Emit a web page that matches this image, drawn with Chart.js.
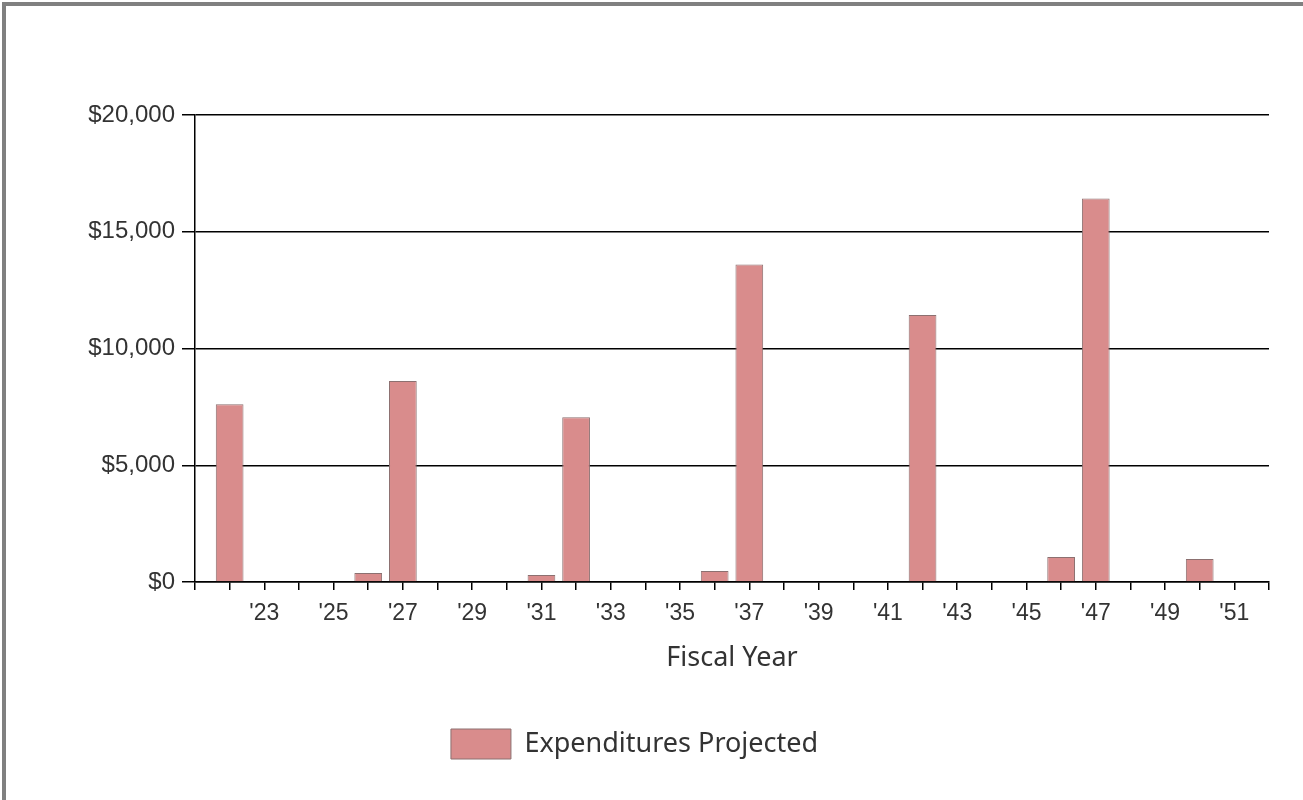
<!DOCTYPE html>
<html>
<head>
<meta charset="utf-8">
<script src="https://cdn.jsdelivr.net/npm/chart.js@4"></script>
<style>
  html, body { margin:0; padding:0; background:#fff; }
  #wrap { position:absolute; left:0; top:0; width:1303px; height:800px; }
  #frame { position:absolute; left:2px; top:2px; width:1400px; height:900px;
           border-top:4px solid #808080; border-left:4px solid #808080; pointer-events:none; }
</style>
</head>
<body>
<div id="wrap"><canvas id="c" width="1303" height="800"></canvas></div>
<div id="frame"></div>
<script>
const categories = ["'21","'22","'23","'24","'25","'26","'27","'28","'29","'30","'31","'32","'33","'34","'35","'36","'37","'38","'39","'40","'41","'42","'43","'44","'45","'46","'47","'48","'49","'50","'51","'52"];
const expendituresProjected = [0,7610,0,0,0,385,8610,0,0,0,300,7060,0,0,0,470,13600,0,0,0,0,11430,0,0,0,1070,16420,0,0,980,0,0];
const shownTickLabels = ["'23","'25","'27","'29","'31","'33","'35","'37","'39","'41","'43","'45","'47","'49","'51"];
const yTickValues = [0,5000,10000,15000,20000];

new Chart(document.getElementById('c'), {
  type: 'bar',
  data: {
    labels: categories,
    datasets: [{
      label: 'Expenditures Projected',
      data: expendituresProjected,
      backgroundColor: 'rgb(217,140,140)',
      borderColor: 'rgb(140,112,112)',
      borderWidth: 1,
      borderSkipped: 'bottom',
      categoryPercentage: 1,
      barPercentage: 0.8
    }]
  },
  options: {
    responsive: false,
    animation: false,
    devicePixelRatio: 1,
    layout: { padding: { top: 115, right: 34, left: 0, bottom: 31 } },
    plugins: {
      tooltip: { enabled: false },
      legend: {
        position: 'bottom',
        labels: {
          boxWidth: 60, boxHeight: 30, padding: 54,
          color: '#333',
          font: { family: 'Noto Sans', size: 27 }
        }
      }
    },
    scales: {
      x: {
        offset: false,
        afterFit: function(s) { s.height = 93; },
        grid: { offset: false, drawOnChartArea: false, drawTicks: true, tickLength: 8, color: '#000', lineWidth: 1.5 },
        border: { color: '#000', width: 1.5 },
        ticks: {
          autoSkip: false, maxRotation: 0, padding: 10,
          color: '#333', font: { family: 'Liberation Sans', size: 23 },
          callback: function(v) { const l = categories[v]; return shownTickLabels.includes(l) ? l : ''; }
        },
        title: { display: true, text: 'Fiscal Year', color: '#333', font: { family: 'Noto Sans', size: 27 }, padding: { top: 4, bottom: 0 } }
      },
      y: {
        min: 0, max: 20000,
        afterFit: function(s) { s.width = 195; },
        afterBuildTicks: function(s) { s.ticks = yTickValues.map(v => ({ value: v })); },
        grid: { color: '#000', lineWidth: 1.5, tickLength: 13 },
        border: { color: '#000', width: 1.5 },
        ticks: {
          padding: 7, color: '#333', font: { family: 'Liberation Sans', size: 24 },
          callback: function(v) { return '$' + v.toLocaleString('en-US'); }
        }
      }
    }
  }
});
</script>
</body>
</html>
